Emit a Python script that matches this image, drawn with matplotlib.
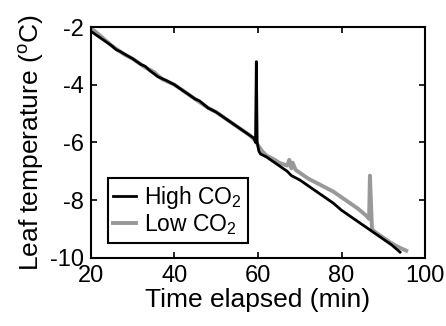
import matplotlib
matplotlib.use("Agg")
import matplotlib.pyplot as plt

plt.rcParams['font.family'] = ['Liberation Sans', 'DejaVu Sans']
plt.rcParams['axes.unicode_minus'] = False
plt.rcParams['mathtext.fontset'] = 'custom'
plt.rcParams['mathtext.rm'] = 'Liberation Sans'

# High CO2 (black trace)
high_t = [20, 22, 24, 25, 26, 27, 30, 32, 33, 34, 36, 38, 40, 42, 45, 46, 48, 50,
          52, 55, 57, 59, 59.4, 59.6, 59.8, 60.2, 60.6, 62, 65, 67, 68, 70, 72, 75,
          78, 80, 82, 85, 88, 90, 92, 94]
high_T = [-2.15, -2.35, -2.55, -2.65, -2.78, -2.85, -3.1, -3.3, -3.36, -3.5, -3.72,
          -3.85, -4.0, -4.2, -4.5, -4.56, -4.8, -4.95, -5.15, -5.45, -5.65, -5.85,
          -6.0, -3.2, -6.0, -6.3, -6.4, -6.5, -6.8, -7.0, -7.15, -7.3, -7.5, -7.8,
          -8.1, -8.35, -8.55, -8.85, -9.15, -9.35, -9.55, -9.8]

# Low CO2 (grey trace)
low_t = [20, 21, 23, 25, 28, 30, 33, 35, 37, 40, 43, 45, 48, 50, 53, 55, 58, 59.5,
         60, 61, 62, 64, 65, 66, 67, 67.5, 68, 68.3, 69, 70, 72, 74, 76, 78, 80, 82,
         84, 86, 86.6, 86.8, 87.3, 88, 90, 92, 94, 95.5]
low_T = [-2.05, -2.15, -2.4, -2.65, -2.95, -3.1, -3.4, -3.55, -3.8, -4.0, -4.3, -4.5,
         -4.8, -4.95, -5.25, -5.45, -5.75, -5.95, -6.1, -6.3, -6.45, -6.6, -6.7, -6.75,
         -6.8, -6.6, -6.9, -6.7, -6.95, -7.05, -7.25, -7.4, -7.55, -7.7, -7.9, -8.1,
         -8.3, -8.55, -8.65, -7.15, -9.0, -9.1, -9.3, -9.5, -9.65, -9.75]

xticks = [20, 40, 60, 80, 100]
yticks = [-2, -4, -6, -8, -10]

fig = plt.figure(figsize=(4.46, 3.26), dpi=100)
ax = fig.add_axes([0.204, 0.209, 0.749, 0.708])

ax.plot(low_t, low_T, color='#999999', lw=2.8, label='Low CO$_2$', zorder=2)
ax.plot(high_t, high_T, color='black', lw=2.0, label='High CO$_2$', zorder=3)

ax.set_xlim(20, 100)
ax.set_ylim(-10, -2)
ax.set_xticks(xticks)
ax.set_yticks(yticks)
ax.set_xlabel('Time elapsed (min)', fontsize=19, labelpad=1)
ax.set_ylabel('Leaf temperature ($^{\\rm o}$C)', fontsize=19, labelpad=3)
ax.tick_params(direction='in', top=True, right=True, length=4, width=1.2,
               labelsize=17, pad=5)
for s in ax.spines.values():
    s.set_linewidth(1.5)

h, l = ax.get_legend_handles_labels()
leg = ax.legend(h[::-1], l[::-1], loc='lower left', bbox_to_anchor=(0.05, 0.065),
                fontsize=16.5, fancybox=False, framealpha=1, edgecolor='black',
                handlelength=1.0, handletextpad=0.35, borderpad=0.25,
                labelspacing=0.05, borderaxespad=0)
leg.get_frame().set_linewidth(1.5)

fig.savefig('out.png', dpi=100)
